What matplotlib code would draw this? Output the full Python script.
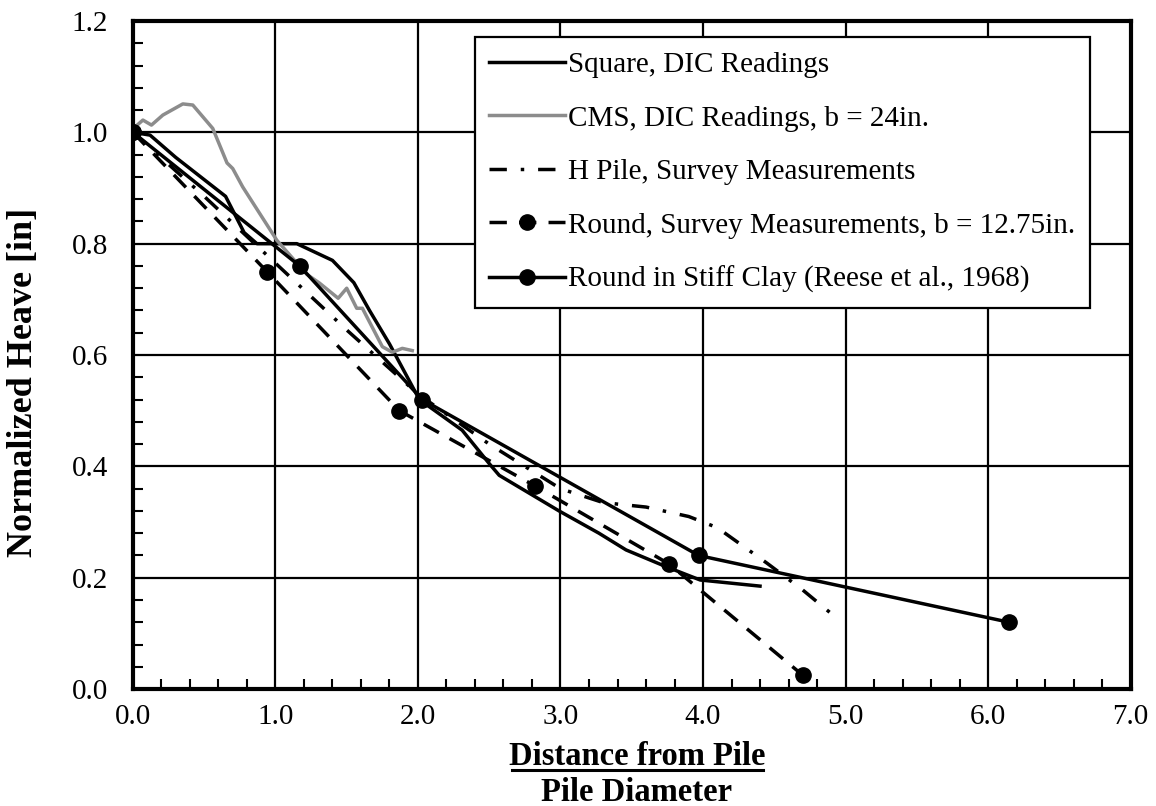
import matplotlib
matplotlib.use("Agg")
import matplotlib.pyplot as plt
from matplotlib.ticker import MultipleLocator, FormatStrFormatter
from matplotlib.lines import Line2D

# ---- data ----
square_x = [0.0, 0.12, 0.30, 0.45, 0.65, 0.70, 0.78, 0.87, 1.15, 1.40, 1.55, 1.66, 1.80, 2.01, 2.31, 2.50, 2.57, 2.99, 3.27, 3.46, 3.74, 3.98, 4.40]
square_y = [1.0, 0.995, 0.955, 0.925, 0.885, 0.86, 0.82, 0.80, 0.80, 0.77, 0.73, 0.68, 0.62, 0.52, 0.465, 0.405, 0.384, 0.32, 0.28, 0.25, 0.22, 0.196, 0.185]

cms_x = [0.0, 0.03, 0.07, 0.13, 0.21, 0.35, 0.42, 0.56, 0.66, 0.70, 0.77, 1.01, 1.22, 1.31, 1.44, 1.50, 1.57, 1.61, 1.75, 1.82, 1.89, 1.96]
cms_y = [1.0, 1.013, 1.022, 1.013, 1.031, 1.051, 1.049, 1.007, 0.945, 0.935, 0.902, 0.806, 0.745, 0.729, 0.702, 0.72, 0.684, 0.684, 0.615, 0.605, 0.612, 0.608]

hpile_x = [0.0, 0.5, 1.0, 1.5, 2.0, 2.5, 3.0, 3.3, 3.6, 3.9, 4.1, 4.45, 4.7, 4.95]
hpile_y = [1.0, 0.885, 0.765, 0.645, 0.53, 0.44, 0.36, 0.335, 0.327, 0.31, 0.29, 0.226, 0.178, 0.125]

round_x = [0.0, 0.94, 1.87, 2.82, 3.76, 4.70]
round_y = [1.0, 0.75, 0.50, 0.365, 0.225, 0.025]

reese_x = [0.0, 1.17, 2.03, 3.97, 6.15]
reese_y = [1.0, 0.76, 0.52, 0.24, 0.12]

labels = ["Square, DIC Readings",
          "CMS, DIC Readings, b = 24in.",
          "H Pile, Survey Measurements",
          "Round, Survey Measurements, b = 12.75in.",
          "Round in Stiff Clay (Reese et al., 1968)"]

xlabel_top = "Distance from Pile"
xlabel_bottom = "Pile Diameter"
ylabel = "Normalized Heave [in]"

# ---- plot ----
plt.rcParams['font.family'] = ['Liberation Serif', 'DejaVu Serif']
fig = plt.figure(figsize=(11.56, 8.06), dpi=100)
ax = fig.add_axes([0.115, 0.145, 0.863, 0.829])

lw = 2.5
ax.plot(square_x, square_y, color='black', lw=lw, label=labels[0], zorder=3)
ax.plot(cms_x, cms_y, color='#8c8c8c', lw=lw, label=labels[1], zorder=3)
ax.plot(hpile_x, hpile_y, color='black', lw=lw, linestyle=(0, (5, 4, 1, 4)), label=labels[2], zorder=3)
ax.plot(round_x, round_y, color='black', lw=lw, linestyle=(0, (5, 3.5)), marker='o', markersize=11, label=labels[3], zorder=4)
ax.plot(reese_x, reese_y, color='black', lw=lw, marker='o', markersize=11, label=labels[4], zorder=4)

ax.set_xlim(0, 7)
ax.set_ylim(0, 1.2)
ax.xaxis.set_major_locator(MultipleLocator(1.0))
ax.xaxis.set_minor_locator(MultipleLocator(0.2))
ax.yaxis.set_major_locator(MultipleLocator(0.2))
ax.yaxis.set_minor_locator(MultipleLocator(0.04))
ax.xaxis.set_major_formatter(FormatStrFormatter('%.1f'))
ax.yaxis.set_major_formatter(FormatStrFormatter('%.1f'))
ax.tick_params(axis='both', which='both', direction='in', width=1.5, color='black')
ax.tick_params(axis='both', which='minor', length=7)
ax.tick_params(axis='x', which='major', length=0, pad=11, labelsize=21)
ax.tick_params(axis='y', which='major', length=0, pad=18, labelsize=21)
ax.grid(True, which='major', color='black', lw=1.6, zorder=1)
ax.set_axisbelow(True)
for s in ax.spines.values():
    s.set_linewidth(3)
    s.set_zorder(5)

# y label
fig.text(0.020, 0.526, ylabel, rotation=90, ha='center', va='center', fontsize=26, fontweight='bold')

# x label as fraction
fig.text(0.551, 0.0509, xlabel_top, ha='center', va='baseline', fontsize=23.5, fontweight='bold')
fig.text(0.551, 0.006, xlabel_bottom, ha='center', va='baseline', fontsize=23.5, fontweight='bold')
fig.add_artist(Line2D([0.443, 0.660], [0.0447, 0.0447], transform=fig.transFigure, color='black', lw=2.2))

leg = ax.legend(loc='upper right', bbox_to_anchor=(0.959, 0.976), fontsize=21, numpoints=1,
                handlelength=2.6, handletextpad=0.1, labelspacing=0.93, borderpad=0.5,
                borderaxespad=0, fancybox=False, framealpha=1, edgecolor='black')
leg.get_frame().set_linewidth(1.6)
leg.set_zorder(6)

fig.savefig('out.png', dpi=100)
